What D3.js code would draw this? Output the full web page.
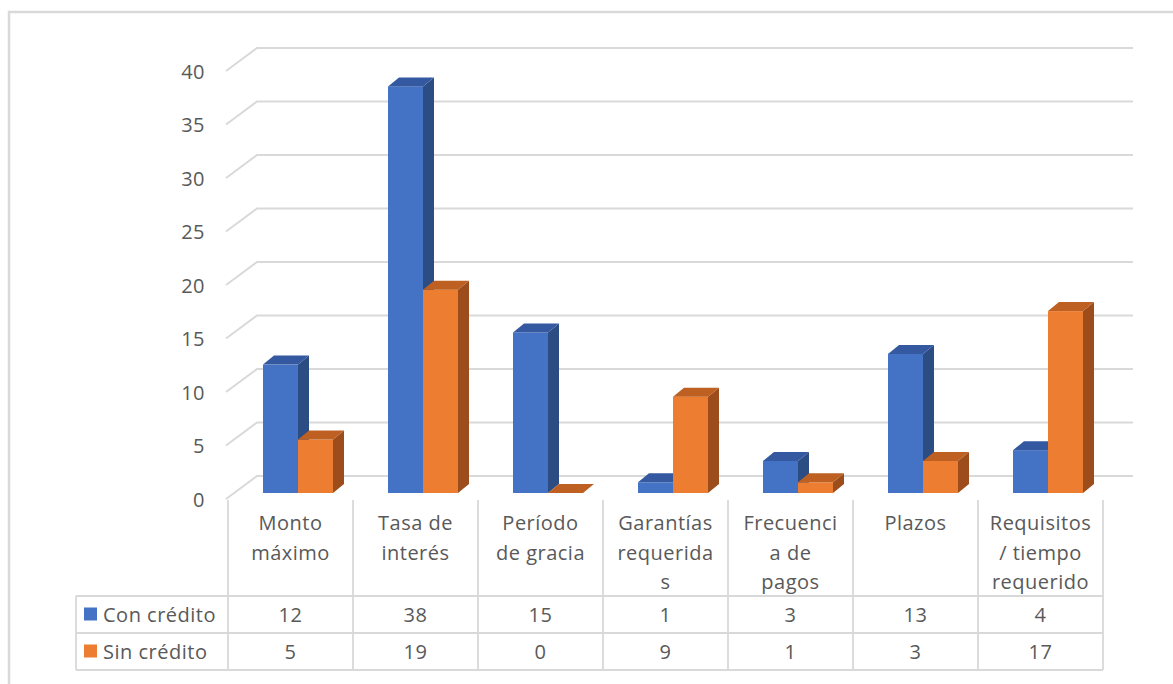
<!DOCTYPE html>
<html>
<head>
<meta charset="utf-8">
<script src="https://cdn.jsdelivr.net/npm/d3@7"></script>
<style>
  html, body { margin: 0; padding: 0; background: #fff; }
  svg { display: block; }
  text { font-family: "Open Sans", sans-serif; fill: #595959; }
</style>
</head>
<body>
<div id="chart"></div>
<script>
// Category labels, already wrapped as they appear in the data table header
const categories = [
  ["Monto", "máximo"],
  ["Tasa de", "interés"],
  ["Período", "de gracia"],
  ["Garantías", "requerida", "s"],
  ["Frecuenci", "a de", "pagos"],
  ["Plazos"],
  ["Requisitos", "/ tiempo", "requerido"]
];
const seriesNames = ["Con crédito", "Sin crédito"];
const conCredito = [12, 38, 15, 1, 3, 13, 4];
const sinCredito = [5, 19, 0, 9, 1, 3, 17];
const yTicks = [0, 5, 10, 15, 20, 25, 30, 35, 40];

const W = 1173, H = 684;
const palette = [
  { front: "#4472C4", top: "#3459a0", side: "#2c4c84" },
  { front: "#ED7D31", top: "#bd6022", side: "#9c4d1b" }
];
const gridColor = "#d9d9d9";

const svg = d3.select("#chart").append("svg")
  .attr("width", W).attr("height", H);

// outer chart frame
svg.append("rect")
  .attr("x", 9).attr("y", 12).attr("width", W + 40).attr("height", H + 40)
  .attr("fill", "none").attr("stroke", gridColor).attr("stroke-width", 2.5);

const x = d3.scaleBand().domain(d3.range(categories.length)).range([228, 1103]);
const yAxis = d3.scaleLinear().domain([0, 40]).range([499, 71]);   // front edge of the floor/wall
const yBar = d3.scaleLinear().domain([0, 40]).range([493, 65]);    // bar front plane
const wall = { dx: 31, dy: -23, left: 226, right: 1133 };
const depth = { dx: 11, dy: -9 };

// gridlines: diagonal on the side wall, then across the back wall
const grid = svg.append("g");
yTicks.forEach(t => {
  const y0 = yAxis(t);
  grid.append("path")
    .attr("d", `M${wall.left},${y0}L${wall.left + wall.dx},${y0 + wall.dy}L${wall.right},${y0 + wall.dy}`)
    .attr("fill", "none").attr("stroke", gridColor).attr("stroke-width", 2);
});

// value axis labels
svg.append("g").selectAll("text").data(yTicks).join("text")
  .attr("x", 205).attr("y", d => yAxis(d))
  .attr("text-anchor", "end").attr("dominant-baseline", "central")
  .attr("font-size", 20).attr("letter-spacing", 0.5)
  .text(d => d);

// 3D bars
const bw = x.bandwidth() * 0.28;
const barsG = svg.append("g");
const series = [conCredito, sinCredito];
categories.forEach((c, i) => {
  series.forEach((vals, s) => {
    const v = vals[i];
    const x0 = x(i) + x.bandwidth() * (0.28 + 0.28 * s);
    const yt = yBar(v), yb = yBar(0);
    const col = palette[s];
    const g = barsG.append("g");
    // side face
    g.append("path")
      .attr("d", `M${x0 + bw},${yt}L${x0 + bw + depth.dx},${yt + depth.dy}L${x0 + bw + depth.dx},${yb + depth.dy}L${x0 + bw},${yb}Z`)
      .attr("fill", col.side);
    // front face
    g.append("rect")
      .attr("x", x0).attr("y", yt).attr("width", bw).attr("height", yb - yt)
      .attr("fill", col.front);
    // top face
    g.append("path")
      .attr("d", `M${x0},${yt}L${x0 + depth.dx},${yt + depth.dy}L${x0 + bw + depth.dx},${yt + depth.dy}L${x0 + bw},${yt}Z`)
      .attr("fill", col.top);
  });
});

// data table
const tableTop = 500, rowTop = 596, rowH = 37, tableLeft = 76;
const tbl = svg.append("g").attr("stroke", gridColor).attr("stroke-width", 1.8).attr("fill", "none");
const bounds = d3.range(categories.length).map(i => x(i)).concat([x.range()[1]]);
bounds.forEach(bx => {
  tbl.append("line").attr("x1", bx).attr("x2", bx).attr("y1", tableTop).attr("y2", rowTop + 2 * rowH);
});
[rowTop, rowTop + rowH, rowTop + 2 * rowH].forEach(ry => {
  tbl.append("line").attr("x1", tableLeft).attr("x2", x.range()[1]).attr("y1", ry).attr("y2", ry);
});
tbl.append("line").attr("x1", tableLeft).attr("x2", tableLeft).attr("y1", rowTop).attr("y2", rowTop + 2 * rowH);

// category headers
categories.forEach((lines, i) => {
  const t = svg.append("text")
    .attr("text-anchor", "middle").attr("font-size", 20).attr("letter-spacing", 0.5);
  lines.forEach((ln, k) => {
    t.append("tspan").attr("x", x(i) + x.bandwidth() / 2).attr("y", 530 + k * 29.5).text(ln);
  });
});

// legend keys and series rows
series.forEach((vals, s) => {
  const cy = rowTop + rowH * s + rowH / 2;
  svg.append("rect")
    .attr("x", 84).attr("y", cy - 7).attr("width", 13).attr("height", 13)
    .attr("fill", palette[s].front);
  svg.append("text")
    .attr("x", 103).attr("y", cy).attr("dominant-baseline", "central")
    .attr("font-size", 20).attr("letter-spacing", 0.5)
    .text(seriesNames[s]);
  vals.forEach((v, i) => {
    svg.append("text")
      .attr("x", x(i) + x.bandwidth() / 2).attr("y", cy)
      .attr("text-anchor", "middle").attr("dominant-baseline", "central")
      .attr("font-size", 20).attr("letter-spacing", 0.5)
      .text(v);
  });
});
</script>
</body>
</html>
